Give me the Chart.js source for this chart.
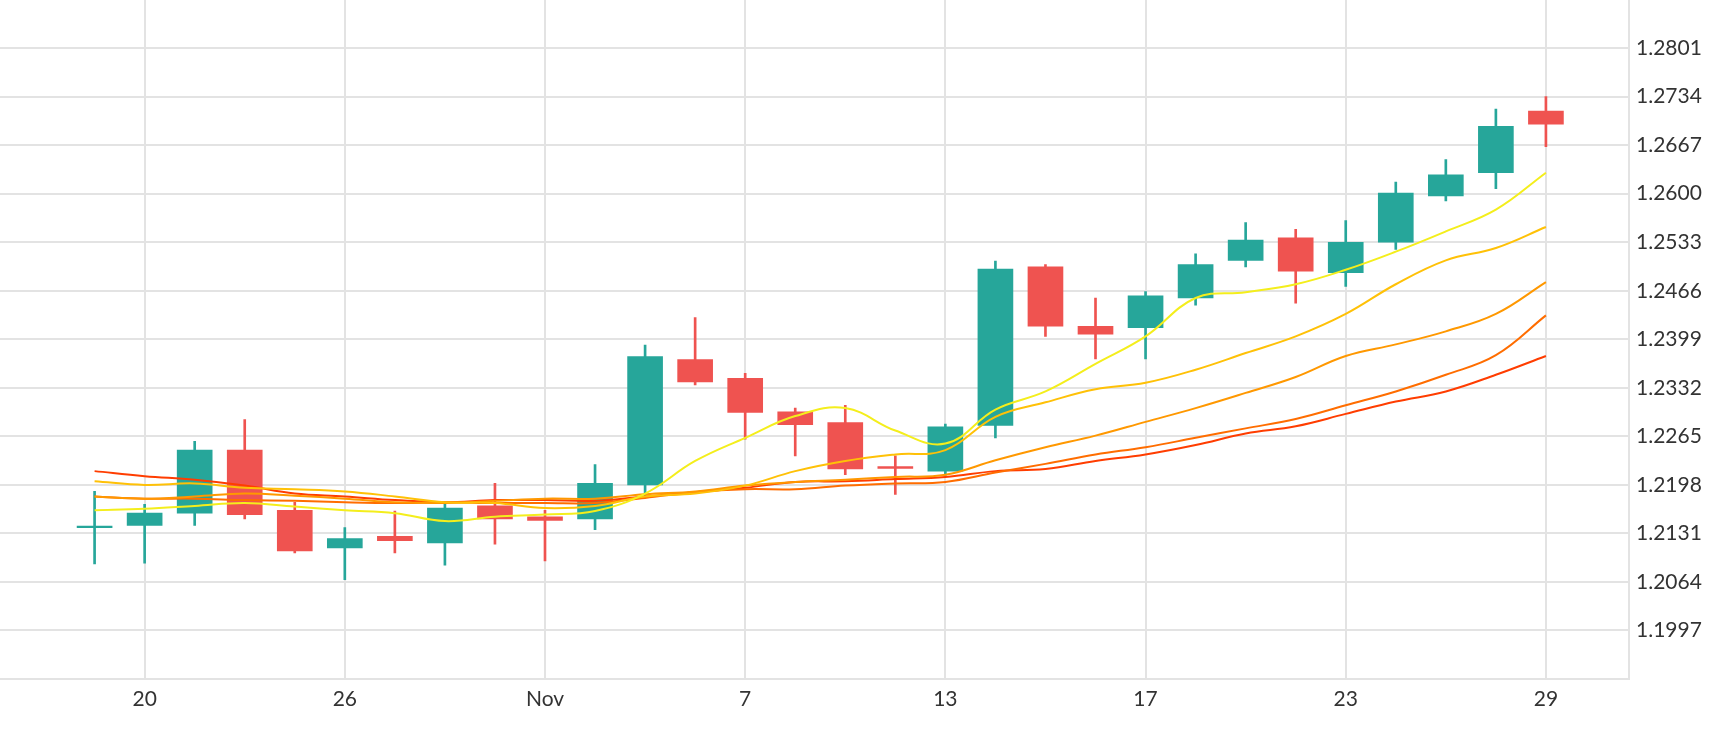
<!DOCTYPE html>
<html><head><meta charset="utf-8">
<script src="https://cdn.jsdelivr.net/npm/chart.js@4"></script>
<style>html,body{margin:0;padding:0;background:#fff;overflow:hidden}#wrap{width:1730px;height:750px;position:relative;top:-20px}</style>
</head><body><div id="wrap"><canvas id="c"></canvas></div>
<script>
// candle index positions and tick labels
var tickPos = [1,5,9,13,17,21,25,29];
var tickLabels = ['20','26','Nov','7','13','17','23','29'];

var opens  = [1.2140,1.2142,1.2159,1.2246,1.2163,1.2111,1.2127,1.2118,1.2169,1.2154,1.2151,1.2198,1.2371,1.2345,1.2299,1.2284,1.2222,1.2217,1.2280,1.2499,1.2417,1.2415,1.2456,1.2508,1.2539,1.2491,1.2533,1.2597,1.2629,1.2714];
var highs  = [1.2189,1.2171,1.2258,1.2288,1.2174,1.2139,1.2162,1.2174,1.2200,1.2163,1.2226,1.2391,1.2429,1.2352,1.2304,1.2308,1.2238,1.2282,1.2507,1.2502,1.2456,1.2465,1.2517,1.2560,1.2551,1.2563,1.2616,1.2647,1.2717,1.2734];
var lows   = [1.2089,1.2090,1.2142,1.2151,1.2104,1.2067,1.2104,1.2087,1.2116,1.2093,1.2136,1.2182,1.2336,1.2261,1.2238,1.2212,1.2185,1.2211,1.2263,1.2403,1.2372,1.2372,1.2446,1.2499,1.2449,1.2472,1.2523,1.2590,1.2607,1.2665];
var closes = [1.2141,1.2159,1.2246,1.2157,1.2107,1.2124,1.2121,1.2166,1.2151,1.2149,1.2200,1.2375,1.2340,1.2298,1.2281,1.2220,1.2220,1.2278,1.2496,1.2417,1.2406,1.2459,1.2502,1.2536,1.2493,1.2533,1.2601,1.2626,1.2693,1.2696];

var ma1 = [1.2163,1.2165,1.2169,1.2173,1.2168,1.2163,1.2159,1.2148,1.2154,1.2157,1.2162,1.2186,1.2231,1.2263,1.2293,1.2304,1.2273,1.2255,1.2302,1.2327,1.2365,1.2403,1.2456,1.2464,1.2475,1.2495,1.2520,1.2548,1.2578,1.2629];
var ma2 = [1.2203,1.2198,1.2200,1.2194,1.2192,1.2189,1.2182,1.2174,1.2173,1.2166,1.2169,1.2182,1.2186,1.2197,1.2217,1.2231,1.2240,1.2246,1.2292,1.2312,1.2330,1.2339,1.2357,1.2380,1.2403,1.2434,1.2475,1.2508,1.2525,1.2554];
var ma3 = [1.2182,1.2179,1.2182,1.2186,1.2183,1.2179,1.2174,1.2173,1.2176,1.2179,1.2179,1.2185,1.2189,1.2197,1.2202,1.2205,1.2209,1.2212,1.2232,1.2250,1.2266,1.2285,1.2304,1.2325,1.2347,1.2376,1.2392,1.2410,1.2434,1.2478];
var ma4 = [1.2182,1.2179,1.2179,1.2177,1.2176,1.2174,1.2173,1.2174,1.2173,1.2173,1.2173,1.2180,1.2188,1.2192,1.2192,1.2197,1.2200,1.2202,1.2215,1.2227,1.2240,1.2250,1.2263,1.2276,1.2289,1.2308,1.2327,1.2350,1.2377,1.2432];
var ma5 = [1.2217,1.2210,1.2205,1.2197,1.2186,1.2182,1.2177,1.2174,1.2177,1.2177,1.2176,1.2182,1.2188,1.2194,1.2202,1.2203,1.2206,1.2209,1.2217,1.2220,1.2231,1.2240,1.2253,1.2269,1.2279,1.2296,1.2313,1.2327,1.2350,1.2376];

var yTicks = [1.1997,1.2064,1.2131,1.2198,1.2265,1.2332,1.2399,1.2466,1.2533,1.2600,1.2667,1.2734,1.2801];

var UP = '#26a69a', DOWN = '#ef5350';
var cols = opens.map(function(o,i){ return closes[i] >= o ? UP : DOWN; });
function pts(arr){ return arr.map(function(v,i){ return {x:i,y:v}; }); }
function lineDs(arr, color){
  return {type:'line', data:pts(arr), borderColor:color, borderWidth:2, pointRadius:0, tension:0.4, fill:false, order:0};
}

new Chart(document.getElementById('c'), {
  type:'bar',
  data:{datasets:[
    lineDs(ma1,'#f4ee1c'), lineDs(ma2,'#ffc107'), lineDs(ma3,'#ff9800'), lineDs(ma4,'#ff6d00'), lineDs(ma5,'#ff3d00'),
    {data:opens.map(function(o,i){ return {x:i,y:[lows[i],highs[i]]}; }), backgroundColor:cols, barThickness:2, grouped:false, order:2},
    {data:opens.map(function(o,i){ var b=[o,closes[i]]; if(Math.abs(o-closes[i])<0.00025) b=[o-0.00012,o+0.00012]; return {x:i,y:b}; }), backgroundColor:cols, barThickness:35, grouped:false, order:1}
  ]},
  options:{
    responsive:true, maintainAspectRatio:false, animation:false,
    layout:{padding:0, autoPadding:false},
    plugins:{legend:{display:false}, tooltip:{enabled:false}},
    scales:{
      x:{type:'linear', min:-1.89, max:30.66, offset:false,
        afterBuildTicks:function(s){ s.ticks = tickPos.map(function(v){ return {value:v}; }); },
        afterFit:function(s){ s.height = 51; },
        ticks:{autoSkip:false, maxRotation:0, color:'#333', font:{family:'Lato', size:21}, padding:8,
          callback:function(v){ var k = tickPos.indexOf(v); return k>=0 ? tickLabels[k] : ''; }},
        grid:{color:'#e3e3e3', lineWidth:2, drawTicks:false, offset:false}, border:{color:'#e3e3e3', width:2}},
      y:{position:'right', min:1.1930, max:1.2868,
        afterBuildTicks:function(s){ s.ticks = yTicks.map(function(v){ return {value:v}; }); },
        afterFit:function(s){ s.width = 101; },
        ticks:{color:'#333', font:{family:'Lato', size:21}, padding:7,
          callback:function(v){ return v.toFixed(4); }},
        grid:{color:'#e3e3e3', lineWidth:2, drawTicks:false}, border:{color:'#e3e3e3', width:2}}
    }
  }
});
</script></body></html>
